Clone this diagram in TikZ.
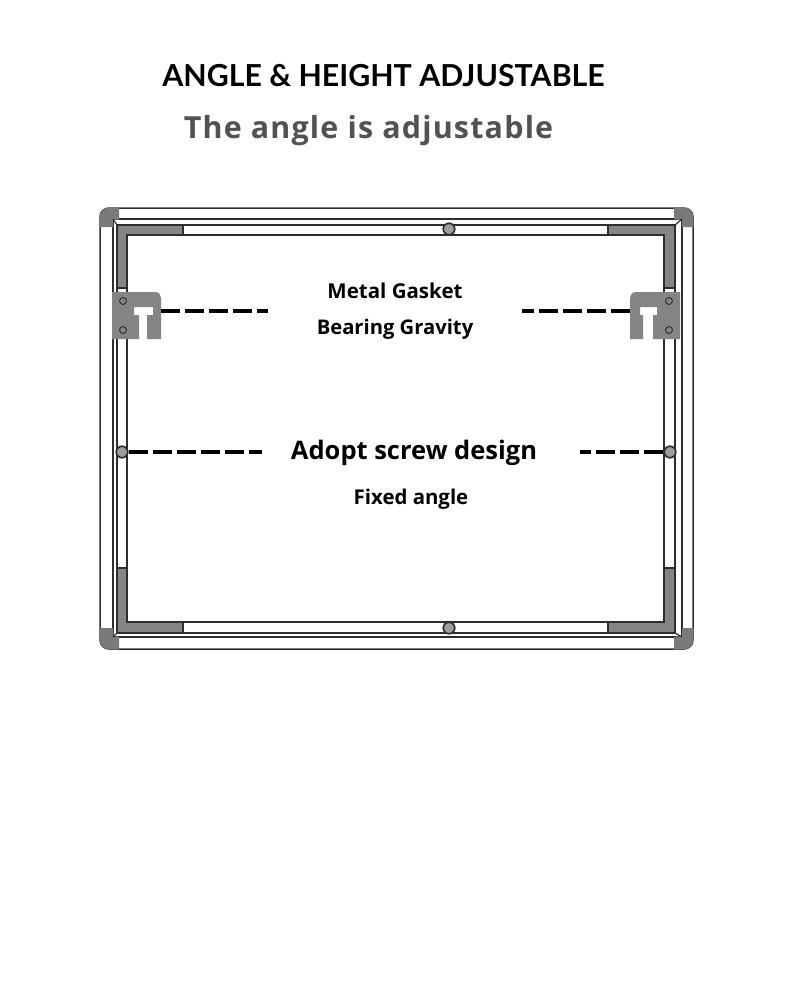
\documentclass[tikz,border=0pt]{standalone}
\usepackage{fontspec}
\setmainfont{Open Sans}
\newfontfamily\titlefont{Lato}
\newfontfamily\subfont[LetterSpace=4]{Open Sans}
\definecolor{plate}{HTML}{858585}
\definecolor{ink}{HTML}{2E2E2E}
\tikzset{
  frameline/.style={draw=ink,line width=1.5pt,fill=white},
  band/.style={fill=plate,draw=ink,line width=1.2pt,line join=miter},
  cornerpiece/.style={fill=plate!92!black,draw=none},
  bracket/.style={fill=plate,draw=none},
  hole/.style={circle,draw=ink,line width=.9pt,fill=plate,minimum size=7pt,inner sep=0pt},
  screw/.style={circle,draw=ink,line width=1.7pt,fill=plate!80!white,minimum size=11.5pt,inner sep=0pt},
  dashline/.style={draw=black,line width=3.5pt,dash pattern=on 19pt off 5pt},
  label/.style={font=\bfseries,text=black,inner sep=0pt,anchor=center},
}
\begin{document}
\begin{tikzpicture}[x=1pt,y=-1pt]
\useasboundingbox (0,0) rectangle (790,996);
% frame
\draw[frameline,rounded corners=9pt] (100,208) rectangle (693,649);
\draw[frameline] (113,219) rectangle (682,637);
\draw[frameline] (117,225) rectangle (675,633);
\draw[frameline] (127,235) rectangle (664,622);
% gray inner bands
\draw[band] (117,225) -- (183,225) -- (183,235) -- (127,235) -- (127,288) -- (117,288) -- cycle;
\draw[band] (675,225) -- (608,225) -- (608,235) -- (664,235) -- (664,288) -- (675,288) -- cycle;
\draw[band] (117,633) -- (183,633) -- (183,622) -- (127,622) -- (127,568) -- (117,568) -- cycle;
\draw[band] (675,633) -- (608,633) -- (608,622) -- (664,622) -- (664,568) -- (675,568) -- cycle;
% corner pieces
\fill[cornerpiece] (119,207.5) -- (110,207.5) .. controls (104,207.5) and (99.5,212) .. (99.5,218) -- (99.5,227) -- (113,227) -- (113,219.5) -- (119,219.5) -- cycle;
\fill[cornerpiece] (674,207.5) -- (683,207.5) .. controls (689,207.5) and (693.5,212) .. (693.5,218) -- (693.5,227) -- (682,227) -- (682,219.5) -- (674,219.5) -- cycle;
\fill[cornerpiece] (119,649.5) -- (110,649.5) .. controls (104,649.5) and (99.5,645) .. (99.5,639) -- (99.5,628) -- (113,628) -- (113,636.5) -- (119,636.5) -- cycle;
\fill[cornerpiece] (674,649.5) -- (683,649.5) .. controls (689,649.5) and (693.5,645) .. (693.5,639) -- (693.5,628) -- (682,628) -- (682,636.5) -- (674,636.5) -- cycle;
\draw[ink,line width=1.2pt] (113,219) -- (117,225) (682,219) -- (675,225) (113,637) -- (117,633) (682,637) -- (675,633);
% brackets
\fill[bracket] (112,292) -- (155,292) .. controls (159,292) and (161,295) .. (161,298) -- (161,339) -- (147,339) -- (147,315) -- (153,315) -- (153,307) -- (134,307) -- (134,315) -- (139,315) -- (139,339) -- (112,339) -- cycle;
\fill[bracket] (680,292) -- (636,292) .. controls (632,292) and (630,295) .. (630,298) -- (630,339) -- (643,339) -- (643,315) -- (640,315) -- (640,307) -- (657,307) -- (657,315) -- (653,315) -- (653,339) -- (680,339) -- cycle;
\node[hole] (hl1) at (123,301) {};
\node[hole] (hl2) at (123,330) {};
\node[hole] (hr1) at (669,301) {};
\node[hole] (hr2) at (669,330) {};
% screws
\node[screw] (st) at (449,229) {};
\node[screw] (sb) at (449,628) {};
\node[screw] (sl) at (122,452) {};
\node[screw] (sr) at (670,452) {};
% connector ends
\coordinate (bl) at (161,311);
\coordinate (br) at (630,311);
\coordinate (dl) at (268,311);
\coordinate (dr) at (522,311);
\coordinate (el) at (262,452);
\coordinate (er) at (580,452);
\draw[dashline] (bl) -- (dl);
\draw[dashline] (br) -- (dr);
\draw[dashline] (sl.east) -- (el);
\draw[dashline] (sr.west) -- (er);
% text
\node[inner sep=0pt,text=black] (title) at (383.5,76) {\titlefont\bfseries\fontsize{30.3}{34}\selectfont ANGLE \& HEIGHT ADJUSTABLE};
\node[inner sep=0pt,text=black!68] (sub) at (368.5,131) {\subfont\bfseries\fontsize{30.4}{34}\selectfont The angle is adjustable};
\node[label,font=\bfseries\fontsize{20.5}{24}\selectfont] (m) at (395,291) {Metal Gasket};
\node[label,font=\bfseries\fontsize{20.2}{24}\selectfont] (b) at (395,329) {Bearing Gravity};
\node[label,font=\bfseries\fontsize{25.5}{30}\selectfont] (a) at (414,453) {Adopt screw design};
\node[label,font=\bfseries\fontsize{20.4}{24}\selectfont] (f) at (411,499) {Fixed angle};
\end{tikzpicture}
\end{document}
